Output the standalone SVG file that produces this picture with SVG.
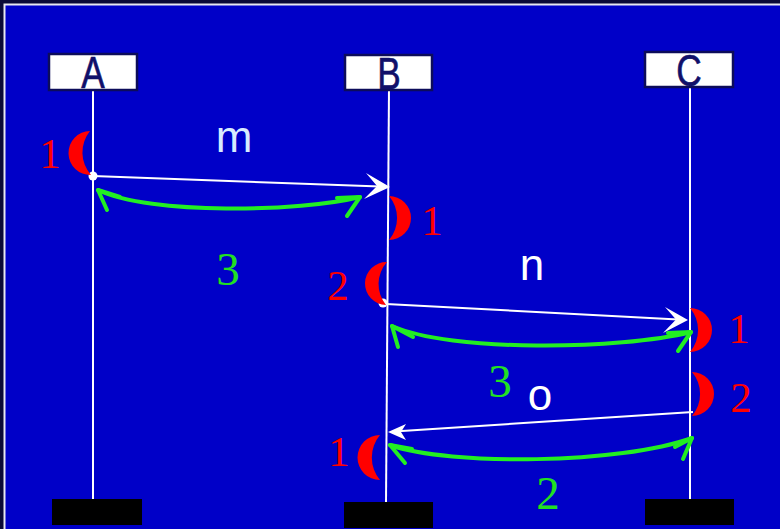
<svg xmlns="http://www.w3.org/2000/svg" width="780" height="529" viewBox="0 0 780 529">
<style>
.life{stroke:#ffffff;stroke-width:2;fill:none}
.box{fill:#ffffff;stroke:#0c0c5a;stroke-width:2.5}
.lbl{font-family:"Liberation Sans",Arial,sans-serif;font-size:44px;fill:#10106a;text-anchor:middle;stroke:#10106a;stroke-width:0.6}
.end{fill:#000000}
.msg{stroke:#ffffff;stroke-width:2;fill:none}
.head{fill:#ffffff}
.grn{stroke:#22ee22;stroke-width:4;fill:none;stroke-linecap:round;stroke-linejoin:round}
.moon{fill:#ff0000}
.red{font-family:"Liberation Serif",serif;font-size:43px;fill:#ff0000;text-anchor:middle}
.gtx{font-family:"Liberation Serif",serif;font-size:47px;fill:#22e022;text-anchor:middle}
.mtx{font-family:"Liberation Sans",Arial,sans-serif;font-size:44px;fill:#ffffff;text-anchor:middle}
</style>
<rect x="0" y="0" width="780" height="529" fill="#0a0a38"/>
<rect x="4.5" y="4.5" width="790" height="540" fill="#0000c8" stroke="#e8e8f0" stroke-width="2"/>

<g id="connectors">
  <line class="life" x1="93" y1="90" x2="93" y2="500"/>
  <line class="life" x1="389" y1="88" x2="386" y2="503"/>
  <line class="life" x1="690" y1="88" x2="690" y2="500"/>
  <g id="msg-m">
    <circle cx="93" cy="176" r="4.5" fill="#ffffff"/>
    <line class="msg" x1="93" y1="176" x2="380" y2="186.6"/>
    <polygon class="head" points="390,187 366,173 377,186 364,199"/>
    <text class="mtx" x="234" y="152" style="fill:#d8ecff">m</text>
  </g>
  <g id="msg-n">
    <circle cx="383" cy="303" r="4.5" fill="#ffffff"/>
    <line class="msg" x1="386" y1="304" x2="678" y2="319.5"/>
    <polygon class="head" points="688,320 665,307 676,319.5 663,333"/>
    <text class="mtx" x="532" y="280">n</text>
  </g>
  <g id="msg-o">
    <line class="msg" x1="693" y1="412" x2="398" y2="431.3"/>
    <polygon class="head" points="388,432 406,424 401,432 406,440"/>
    <text class="mtx" x="540" y="410">o</text>
  </g>
  <g id="rtt-1">
    <path class="grn" d="M98 190 C150 215 300 212 360 197"/>
    <path class="grn" d="M107 210 L98 190 L120 197"/>
    <path class="grn" d="M337 198 L360 197 L347 216"/>
    <text class="gtx" x="228" y="285">3</text>
  </g>
  <g id="rtt-2">
    <path class="grn" d="M392 326 C450 352 620 350 691 332"/>
    <path class="grn" d="M398 347 L392 326 L413 337"/>
    <path class="grn" d="M668 333 L691 332 L678 351"/>
    <text class="gtx" x="500" y="397">3</text>
  </g>
  <g id="rtt-3">
    <path class="grn" d="M390 445 C450 466 620 464 692 438"/>
    <path class="grn" d="M405 463 L390 445 L412 449"/>
    <path class="grn" d="M675 447 L692 438 L683 459"/>
    <text class="gtx" x="548" y="509">2</text>
  </g>
</g>

<g id="node-A">
  <rect class="box" x="49" y="54" width="88" height="36"/>
  <text class="lbl" transform="scale(0.8,1)" x="116.25" y="88.5">A</text>
  <rect class="end" x="52" y="499" width="90" height="26"/>
</g>
<g id="node-B">
  <rect class="box" x="345" y="55" width="87" height="35"/>
  <text class="lbl" transform="scale(0.8,1)" x="486.25" y="89.5">B</text>
  <rect class="end" x="344" y="502" width="89" height="26"/>
</g>
<g id="node-C">
  <rect class="box" x="645" y="52" width="88" height="35"/>
  <text class="lbl" transform="scale(0.8,1)" x="861.25" y="86.5">C</text>
  <rect class="end" x="645" y="499" width="89" height="26"/>
</g>

<g id="marks">
  <path class="moon" d="M90 131 A22 22 0 0 0 91 175 A34 34 0 0 1 90 131 Z"/>
  <text class="red" x="50" y="168">1</text>
  <path class="moon" d="M389 196 A22 22 0 0 1 389 240 A34 34 0 0 0 389 196 Z"/>
  <text class="red" x="432" y="235">1</text>
  <path class="moon" d="M387 262 A21.5 21.5 0 0 0 386 305 A33 33 0 0 1 387 262 Z"/>
  <text class="red" x="338" y="300">2</text>
  <path class="moon" d="M690 308 A22 22 0 0 1 690 352 A34 34 0 0 0 690 308 Z"/>
  <text class="red" x="739" y="343">1</text>
  <path class="moon" d="M692 372 A22 22 0 0 1 692 416 A34 34 0 0 0 692 372 Z"/>
  <text class="red" x="741" y="412">2</text>
  <path class="moon" d="M380 435 A22.5 22.5 0 0 0 380 480 A35 35 0 0 1 380 435 Z"/>
  <text class="red" x="339" y="466">1</text>
</g>
</svg>
